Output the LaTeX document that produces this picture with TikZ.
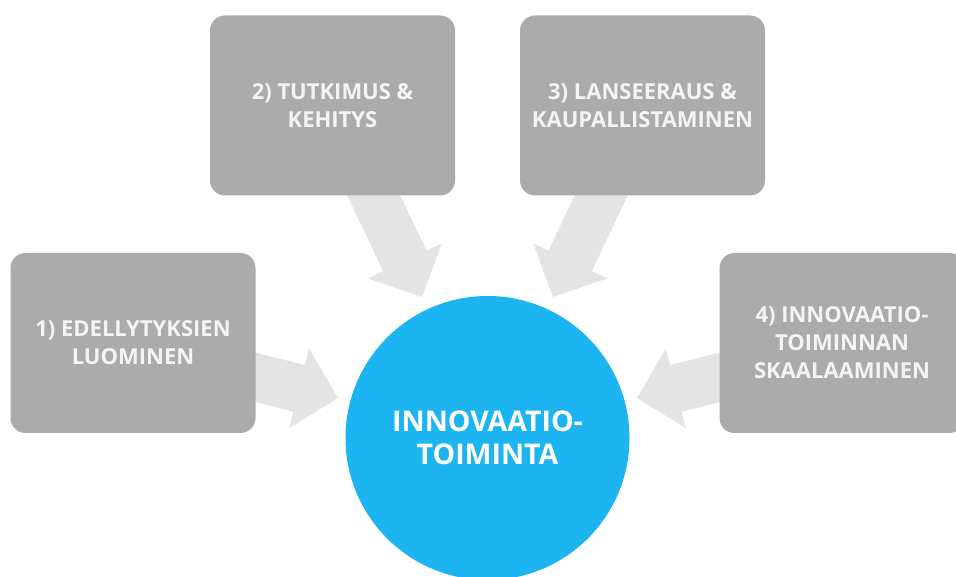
\documentclass[tikz,border=0pt]{standalone}
\usepackage{fontspec}
\setmainfont{Open Sans}
\definecolor{boxgray}{HTML}{ABABAB}
\definecolor{arrgray}{HTML}{E4E4E4}
\definecolor{circblue}{HTML}{1DB5F1}
\definecolor{boxtext}{HTML}{F4F4F4}
\begin{document}
\begin{tikzpicture}[x=1pt,y=1pt,
  stagebox/.style={rectangle, rounded corners=15pt, fill=boxgray, minimum width=245pt, minimum height=180pt,
    text=boxtext, font=\fontsize{22}{28}\selectfont\bfseries, align=center, inner sep=0pt},
  hub/.style={circle, fill=circblue, minimum size=284pt, inner sep=0pt,
    text=white, font=\fontsize{28.5}{33}\selectfont\bfseries, align=center},
  blockarrow/.style={fill=arrgray}]
\useasboundingbox (0,0) rectangle (956,577);
\clip (0,0) rectangle (956,577);
% hub
\node[hub] (hub) at (487.5,139) {INNOVAATIO-\\TOIMINTA};
% tips of the arrows
\coordinate (t1) at (338,179);
\coordinate (t2) at (422,280);
\coordinate (t3) at (553,280);
\coordinate (t4) at (637,179);
% arrows (drawn before boxes so tails hide under them)
\foreach \t/\a/\L in {t1/-14/105, t2/-64.6/135, t3/-115.4/135, t4/-166/105}{
  \begin{scope}[shift={(\t)}, rotate=\a]
    \fill[blockarrow] (0,0) -- (-40,41) -- (-40,24) -- (-\L,24) -- (-\L,-24) -- (-40,-24) -- (-40,-41) -- cycle;
  \end{scope}
}
% boxes
\node[stagebox] (s1) at (133,234) {1) EDELLYTYKSIEN\\LUOMINEN};
\node[stagebox] (s2) at (332.5,471.5) {2) TUTKIMUS \&\\KEHITYS};
\node[stagebox] (s3) at (642.5,471.5) {3) LANSEERAUS \&\\KAUPALLISTAMINEN};
\node[stagebox] (s4) at (842,234) {4) INNOVAATIO-\\TOIMINNAN\\SKAALAAMINEN};
\end{tikzpicture}
\end{document}
